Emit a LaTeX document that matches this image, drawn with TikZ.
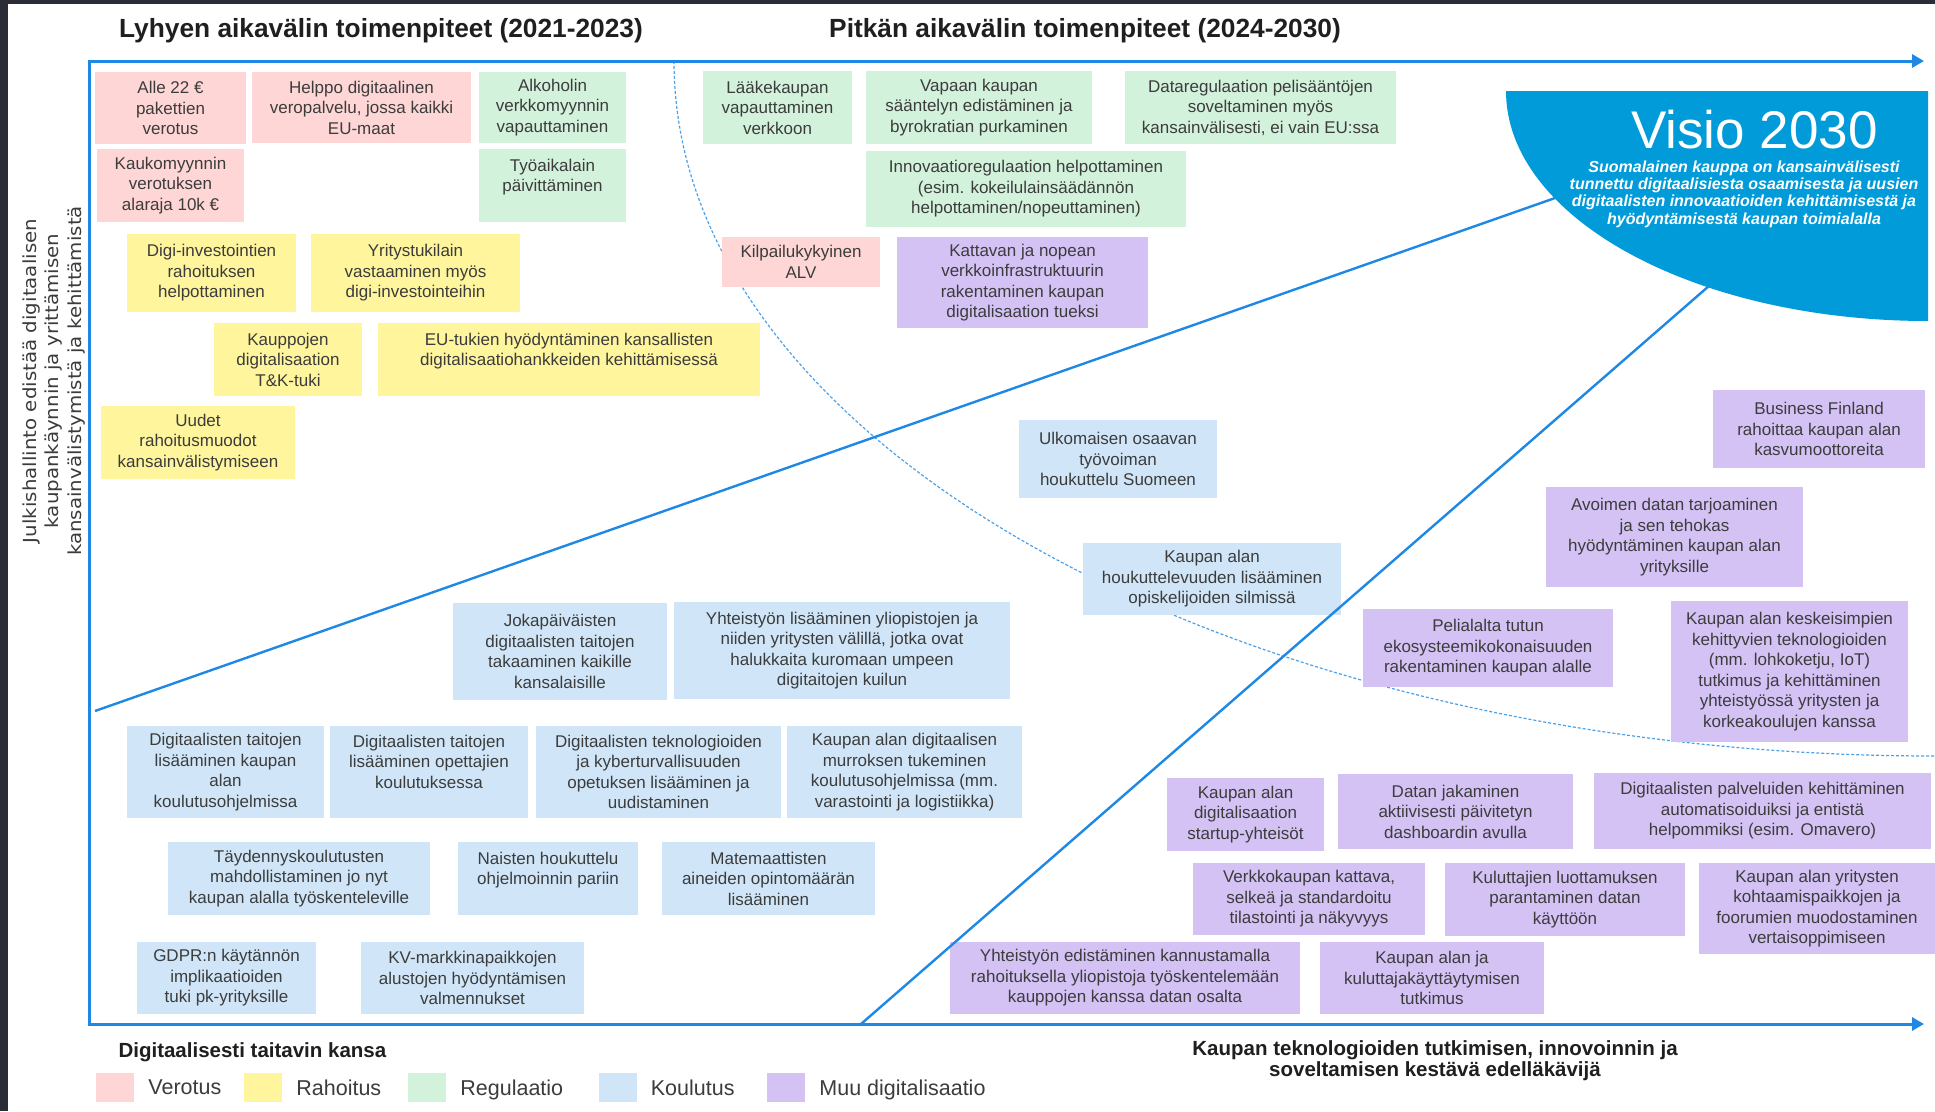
\documentclass[tikz,border=0pt]{standalone}
\usepackage{fontspec}
\setmainfont{Liberation Sans}
\newfontfamily\sidefont[FakeStretch=1.1]{DejaVu Sans}
\usetikzlibrary{arrows.meta, positioning}
\definecolor{framedark}{HTML}{2B2D36}
\definecolor{axisblue}{HTML}{1E88E5}
\definecolor{visioblue}{HTML}{009BD8}
\definecolor{inkgray}{HTML}{3C3C3C}
\definecolor{titleink}{HTML}{1F1F1F}
\definecolor{verored}{HTML}{FFD6D6}
\definecolor{rahayellow}{HTML}{FFF59D}
\definecolor{regugreen}{HTML}{D3F2DC}
\definecolor{koulublue}{HTML}{D0E6F8}
\definecolor{muupurple}{HTML}{D4C2F5}

\begin{document}
\begin{tikzpicture}[x=1pt, y=-1pt,
  cell/.style={fill=#1, text=inkgray, align=center, inner sep=0pt,
    font=\fontsize{17}{20.5}\selectfont},
  wh/.style 2 args={minimum width=#1, minimum height=#2},
  axis/.style={draw=axisblue, line width=3pt, line join=miter},
  track/.style={draw=axisblue, line width=2.4pt},
  horizon/.style={draw=axisblue!80, line width=1.2pt, dash pattern=on 3pt off 2pt},
  heading/.style={font=\bfseries\fontsize{26.3}{30}\selectfont, text=titleink},
  goal/.style={font=\bfseries\fontsize{20.5}{21}\selectfont, text=titleink, align=center},
  legsq/.style={fill=#1, minimum width=38, minimum height=29, inner sep=0pt},
  legtxt/.style={font=\fontsize{21.5}{24}\selectfont, text=inkgray, inner sep=0pt, text depth=0pt}
]
\fill[framedark] (0,0) rectangle (1935,1111);
\fill[white] (8,4) rectangle (1935,1111);
\useasboundingbox (0,0) rectangle (1935,1111);

% headings
\node[heading] (shortterm) at (381,31) {Lyhyen aikavälin toimenpiteet (2021-2023)};
\node[heading] (longterm) at (1085,31) {Pitkän aikavälin toimenpiteet (2024-2030)};

% border between short and long term
\draw[horizon] (674,61) arc[start angle=180, end angle=270, x radius=1261pt, y radius=695pt];

% short term
\node[cell=verored, wh={151}{72}] (alle22) at (170.5,108) {Alle 22 €\\pakettien\\verotus};
\node[cell=verored, wh={219}{71}] (veropalvelu) at (361.5,107.5) {Helppo digitaalinen\\veropalvelu, jossa kaikki\\EU-maat};
\node[cell=regugreen, wh={147}{71}] (alkoholi) at (552.5,107.5) {Alkoholin\\verkkomyynnin\\vapauttaminen};
\node[cell=verored, wh={147}{73}] (kaukomyynti) at (170.5,185.5) {Kaukomyynnin\\verotuksen\\alaraja 10k €};
\node[cell=regugreen, wh={147}{73}] (tyoaika) at (552.5,185.5) {Työaikalain\\päivittäminen\\\phantom{x}};
\node[cell=rahayellow, wh={169}{78}] (digiinvest) at (211.5,273) {Digi-investointien\\rahoituksen\\helpottaminen};
\node[cell=rahayellow, wh={209}{78}] (yritystuki) at (415.5,273) {Yritystukilain\\vastaaminen myös\\digi-investointeihin};
\node[cell=rahayellow, wh={148}{73}] (tktuki) at (288,359.5) {Kauppojen\\digitalisaation\\T\&K-tuki};
\node[cell=rahayellow, wh={382}{73}] (eutuki) at (569,359.5) {EU-tukien hyödyntäminen kansallisten\\digitalisaatiohankkeiden kehittämisessä\\\phantom{x}};
\node[cell=rahayellow, wh={194}{73}] (uudet) at (198,442.5) {Uudet\\rahoitusmuodot\\kansainvälistymiseen};

% long term
\node[cell=regugreen, wh={149}{73}] (laake) at (777.5,107.5) {Lääkekaupan\\vapauttaminen\\verkkoon};
\node[cell=regugreen, wh={226}{73}] (vapaakauppa) at (979,107.5) {Vapaan kaupan\\sääntelyn edistäminen ja\\byrokratian purkaminen};
\node[cell=regugreen, wh={271}{73}] (datareg) at (1260.5,107.5) {Dataregulaation pelisääntöjen\\soveltaminen myös\\kansainvälisesti, ei vain EU:ssa};
\node[cell=regugreen, wh={320}{76}] (innoreg) at (1026,189) {Innovaatioregulaation helpottaminen\\(esim. kokeilulainsäädännön\\helpottaminen/nopeuttaminen)};
\node[cell=verored, wh={158}{50}] (alv) at (801,262) {Kilpailukykyinen\\ALV};
\node[cell=muupurple, wh={251}{91}] (verkkoinfra) at (1022.5,282.5) {Kattavan ja nopean\\verkkoinfrastruktuurin\\rakentaminen kaupan\\digitalisaation tueksi};

% koulutus
\node[cell=koulublue, wh={198}{78}] (ulkomaiset) at (1118,459) {Ulkomaisen osaavan\\työvoiman\\houkuttelu Suomeen};
\node[cell=koulublue, wh={258}{72}] (houkutus) at (1212,579) {Kaupan alan\\houkuttelevuuden lisääminen\\opiskelijoiden silmissä};
\node[cell=koulublue, wh={214}{97}] (jokapaiva) at (560,651.5) {Jokapäiväisten\\digitaalisten taitojen\\takaaminen kaikille\\kansalaisille};
\node[cell=koulublue, wh={336}{97}] (yhteistyo) at (842,650.5) {Yhteistyön lisääminen yliopistojen ja\\niiden yritysten välillä, jotka ovat\\halukkaita kuromaan umpeen\\digitaitojen kuilun};
\node[cell=koulublue, wh={197}{92}] (taidotkauppa) at (225.5,772) {Digitaalisten taitojen\\lisääminen kaupan\\alan\\koulutusohjelmissa};
\node[cell=koulublue, wh={198}{92}] (taidotopett) at (429,772) {Digitaalisten taitojen\\lisääminen opettajien\\koulutuksessa\\\phantom{x}};
\node[cell=koulublue, wh={245}{92}] (kyber) at (658.5,772) {Digitaalisten teknologioiden\\ja kyberturvallisuuden\\opetuksen lisääminen ja\\uudistaminen};
\node[cell=koulublue, wh={235}{92}] (murros) at (904.5,772) {Kaupan alan digitaalisen\\murroksen tukeminen\\koulutusohjelmissa (mm.\\varastointi ja logistiikka)};
\node[cell=koulublue, wh={262}{73}] (taydennys) at (299,878.5) {Täydennyskoulutusten\\mahdollistaminen jo nyt\\kaupan alalla työskenteleville};
\node[cell=koulublue, wh={180}{73}] (naiset) at (548,878.5) {Naisten houkuttelu\\ohjelmoinnin pariin\\\phantom{x}};
\node[cell=koulublue, wh={213}{73}] (matikka) at (768.5,878.5) {Matemaattisten\\aineiden opintomäärän\\lisääminen};
\node[cell=koulublue, wh={179}{72}] (gdpr) at (226.5,978) {GDPR:n käytännön\\implikaatioiden\\tuki pk-yrityksille};
\node[cell=koulublue, wh={223}{72}] (kvmarkkina) at (472.5,978) {KV-markkinapaikkojen\\alustojen hyödyntämisen\\valmennukset};

% muu digitalisaatio
\node[cell=muupurple, wh={212}{78}] (bfinland) at (1819,429) {Business Finland\\rahoittaa kaupan alan\\kasvumoottoreita};
\node[cell=muupurple, wh={257}{100}] (avoindata) at (1674.5,537) {Avoimen datan tarjoaminen\\ja sen tehokas\\hyödyntäminen kaupan alan\\yrityksille};
\node[cell=muupurple, wh={250}{78}] (peliala) at (1488,648) {Pelialalta tutun\\ekosysteemikokonaisuuden\\rakentaminen kaupan alalle};
\node[cell=muupurple, wh={237}{141}] (teknologiat) at (1789.5,671.5) {Kaupan alan keskeisimpien\\kehittyvien teknologioiden\\(mm. lohkoketju, IoT)\\tutkimus ja kehittäminen\\yhteistyössä yritysten ja\\korkeakoulujen kanssa};
\node[cell=muupurple, wh={157}{73}] (startup) at (1245.5,814.5) {Kaupan alan\\digitalisaation\\startup-yhteisöt};
\node[cell=muupurple, wh={235}{75}] (dashboard) at (1455.5,811.5) {Datan jakaminen\\aktiivisesti päivitetyn\\dashboardin avulla};
\node[cell=muupurple, wh={337}{76}] (palvelut) at (1762.5,811) {Digitaalisten palveluiden kehittäminen\\automatisoiduiksi ja entistä\\helpommiksi (esim. Omavero)};
\node[cell=muupurple, wh={232}{72}] (tilastointi) at (1309,899) {Verkkokaupan kattava,\\selkeä ja standardoitu\\tilastointi ja näkyvyys};
\node[cell=muupurple, wh={240}{73}] (luottamus) at (1565,899.5) {Kuluttajien luottamuksen\\parantaminen datan\\käyttöön};
\node[cell=muupurple, wh={236}{91}] (kohtaamis) at (1817,908.5) {Kaupan alan yritysten\\kohtaamispaikkojen ja\\foorumien muodostaminen\\vertaisoppimiseen};
\node[cell=muupurple, wh={350}{72}] (datarahoitus) at (1125,978) {Yhteistyön edistäminen kannustamalla\\rahoituksella yliopistoja työskentelemään\\kauppojen kanssa datan osalta};
\node[cell=muupurple, wh={224}{72}] (kulutustutkimus) at (1432,978) {Kaupan alan ja\\kuluttajakäyttäytymisen\\tutkimus};

% paths towards the vision
\coordinate (rise1) at (95,711);
\coordinate (rise1end) at (1575,191);
\coordinate (rise2) at (861,1024);
\coordinate (rise2end) at (1725,272);
\draw[track] (rise1) -- (rise1end);
\draw[track] (rise2) -- (rise2end);

% vision
\fill[visioblue] (1506,91) -- (1928,91) -- (1928,321) arc[start angle=270, end angle=180, x radius=422pt, y radius=230pt] -- cycle;
\node[text=white, font=\fontsize{53}{60}\selectfont, anchor=base] (visio) at (1754.5,148) {Visio 2030};
\node[text=white, font=\bfseries\itshape\fontsize{16}{17.4}\selectfont, align=center] (visiotext) at (1744,194) {Suomalainen kauppa on kansainvälisesti\\tunnettu digitaalisiesta osaamisesta ja uusien\\digitaalisten innovaatioiden kehittämisestä ja\\hyödyntämisestä kaupan toimialalla};

% axes
\coordinate (origin) at (89,1024);
\coordinate (timeend) at (1924,61);
\coordinate (goalend) at (1924,1024);
\draw[axis, {Triangle[length=12pt, width=13pt]}-{Triangle[length=12pt, width=13pt]}] (goalend) -- (origin) |- (timeend);

\node[rotate=90, align=center, text=inkgray, font=\sidefont\fontsize{18}{22.5}\selectfont] (govaxis) at (54,381) {Julkishallinto edistää digitaalisen\\kaupankäynnin ja yrittämisen\\kansainvälistymistä ja kehittämistä};
\node[goal, anchor=base west] (skillaxis) at (115,1057) {Digitaalisesti taitavin kansa};
\node[goal] (techaxis) at (1435,1061) {Kaupan teknologioiden tutkimisen, innovoinnin ja\\soveltamisen kestävä edelläkävijä};

% legend
\node[legsq=verored] (lgvero) at (115,1087.5) {};
\node[legtxt, right=14pt of lgvero] (lgverotxt) {Verotus};
\node[legsq=rahayellow] (lgraha) at (263,1087.5) {};
\node[legtxt, right=14pt of lgraha] (lgrahatxt) {Rahoitus};
\node[legsq=regugreen] (lgregu) at (427,1087.5) {};
\node[legtxt, right=14pt of lgregu] (lgregutxt) {Regulaatio};
\node[legsq=koulublue] (lgkoulu) at (617.5,1087.5) {};
\node[legtxt, right=14pt of lgkoulu] (lgkoulutxt) {Koulutus};
\node[legsq=muupurple] (lgmuu) at (786,1087.5) {};
\node[legtxt, right=14pt of lgmuu] (lgmuutxt) {Muu digitalisaatio};
\end{tikzpicture}
\end{document}
